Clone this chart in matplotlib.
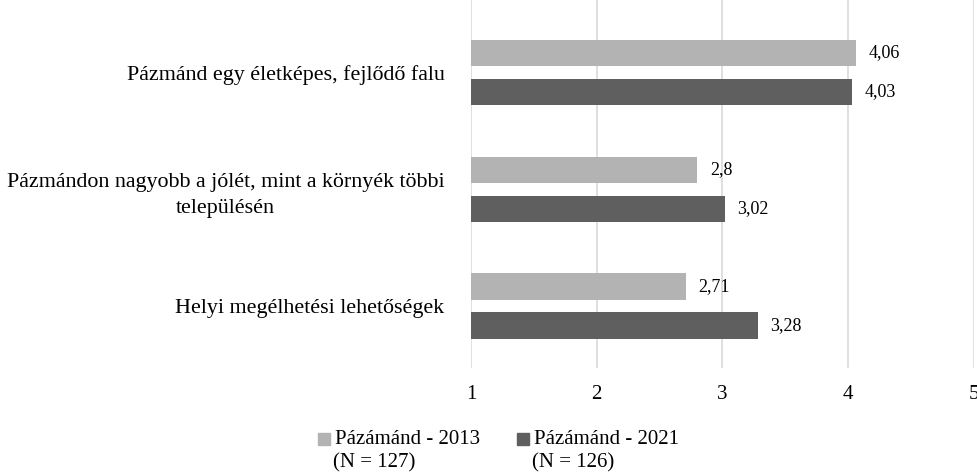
import numpy as np
import matplotlib
matplotlib.use('Agg')
import matplotlib.pyplot as plt
from matplotlib.patches import Rectangle

plt.rcParams['font.family'] = ['Liberation Serif', 'DejaVu Serif']

categories = ['Pázmánd egy életképes, fejlődő falu',
              'Pázmándon nagyobb a jólét, mint a környék többi\ntelepülésén',
              'Helyi megélhetési lehetőségek']
v2013 = [4.06, 2.8, 2.71]
v2021 = [4.03, 3.02, 3.28]
lab2013 = ['4,06', '2,8', '2,71']
lab2021 = ['4,03', '3,02', '3,28']
series = ['Pázámánd - 2013', 'Pázámánd - 2021']
series_n = ['(N = 127)', '(N = 126)']
c_light = '#b3b3b3'
c_dark = '#5f5f5f'

fig = plt.figure(figsize=(9.78, 4.73), dpi=100)
ax = fig.add_axes([471/978, 1 - 368/473, 503/978, 368/473])

y = np.arange(len(categories))
h = 0.225
off = 0.167
ax.barh(y - off, np.array(v2013) - 1, left=1, height=h, color=c_light, zorder=3)
ax.barh(y + off, np.array(v2021) - 1, left=1, height=h, color=c_dark, zorder=3)

for i in range(len(categories)):
    ax.annotate(lab2013[i], (v2013[i], y[i] - off), xytext=(9, 0), textcoords='offset points',
                va='center', ha='left', fontsize=13)
    ax.annotate(lab2021[i], (v2021[i], y[i] + off), xytext=(9, 0), textcoords='offset points',
                va='center', ha='left', fontsize=13)

ax.set_xlim(1, 5)
ax.set_ylim(2.53, -0.62)
ax.set_xticks([1, 2, 3, 4, 5])
ax.set_yticks(y)
ax.set_yticklabels(categories, fontsize=15.8, linespacing=1.5, multialignment='center')
ax.tick_params(axis='x', labelsize=15, length=0, pad=12)
ax.tick_params(axis='y', length=0, pad=19)
ax.grid(axis='x', color='#d9d9d9', linewidth=1.2, zorder=0)
for s in ax.spines.values():
    s.set_visible(False)

# legend drawn by hand so the square sits on the first line
for i, (name, n, col) in enumerate(zip(series, series_n, [c_light, c_dark])):
    x0 = 318 + i * 199
    fig.add_artist(Rectangle((x0/978, 1 - 445/473), 12/978, 12/473,
                             transform=fig.transFigure, color=col))
    fig.text((x0 + 17)/978, 1 - 444/473, name, va='baseline', ha='left', fontsize=15)
    fig.text((x0 + 15)/978, 1 - 467/473, n, va='baseline', ha='left', fontsize=15)

fig.savefig('out.png', dpi=100)
